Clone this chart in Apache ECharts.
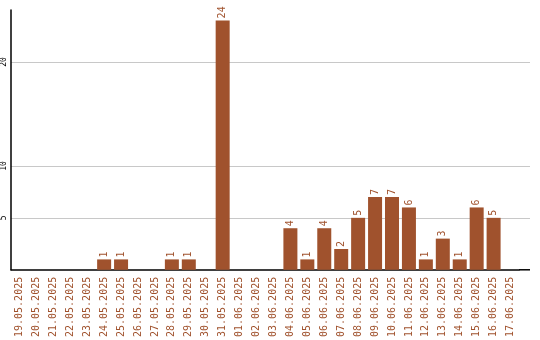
<!DOCTYPE html>
<html><head><meta charset="utf-8">
<script src="https://cdn.jsdelivr.net/npm/echarts@6/dist/echarts.min.js"></script>
<style>html,body{margin:0;padding:0;background:#fff}#c{width:540px;height:340px}</style>
</head><body><div id="c"></div>
<script>
var categories = ["19.05.2025","20.05.2025","21.05.2025","22.05.2025","23.05.2025","24.05.2025","25.05.2025","26.05.2025","27.05.2025","28.05.2025","29.05.2025","30.05.2025","31.05.2025","01.06.2025","02.06.2025","03.06.2025","04.06.2025","05.06.2025","06.06.2025","07.06.2025","08.06.2025","09.06.2025","10.06.2025","11.06.2025","12.06.2025","13.06.2025","14.06.2025","15.06.2025","16.06.2025","17.06.2025"];
var values = [0,0,0,0,0,1,1,0,0,1,1,0,24,0,0,0,4,1,4,2,5,7,7,6,1,3,1,6,5,0];
var yTickLabels = [5,10,20];

var chart = echarts.init(document.getElementById('c'), null, {renderer:'canvas'});
var brown = '#a0522d';
var mono = '"DejaVu Sans Mono", monospace';
var gridColor = '#c8c8c8';
var extendTo = 530;
chart.setOption({
  animation:false,
  grid:{left:9, right:21, top:10, bottom:70},
  xAxis:{type:'category', data:categories, boundaryGap:true,
    axisLine:{lineStyle:{color:'#000', width:1.5}}, axisTick:{show:false},
    axisLabel:{rotate:90, interval:0, color:brown, fontFamily:mono, fontSize:10, margin:7}},
  yAxis:{type:'value', min:0, max:25, interval:5,
    axisLine:{show:true, lineStyle:{color:'#000', width:1.5}}, axisTick:{show:false},
    axisLabel:{rotate:90, color:'#000', fontFamily:mono, fontSize:8, margin:3,
      formatter:function(v){return yTickLabels.indexOf(v)>=0 ? String(v) : '';}},
    splitLine:{show:true, lineStyle:{color:['transparent',gridColor,gridColor,'transparent',gridColor,'transparent']}}},
  series:[{type:'bar', data:values, barWidth:14,
    itemStyle:{color:brown},
    label:{show:true, position:'top', rotate:90, align:'left', verticalAlign:'middle', distance:2,
      color:brown, fontFamily:mono, fontSize:10,
      formatter:function(p){return p.value ? String(p.value) : '';}}}]
});
// extend axis line and grid lines to the right edge like the reference
var gridRight = 540 - 21;
var ext = [];
var y0 = chart.convertToPixel({yAxisIndex:0}, 0);
ext.push({type:'line', shape:{x1:gridRight, y1:y0, x2:extendTo, y2:y0}, style:{stroke:'#000', lineWidth:1.5}});
yTickLabels.forEach(function(v){
  var y = Math.round(chart.convertToPixel({yAxisIndex:0}, v)) + 0.5;
  ext.push({type:'line', shape:{x1:gridRight, y1:y, x2:extendTo, y2:y}, style:{stroke:gridColor, lineWidth:1}, z:-1});
});
chart.setOption({graphic:ext});
</script></body></html>
